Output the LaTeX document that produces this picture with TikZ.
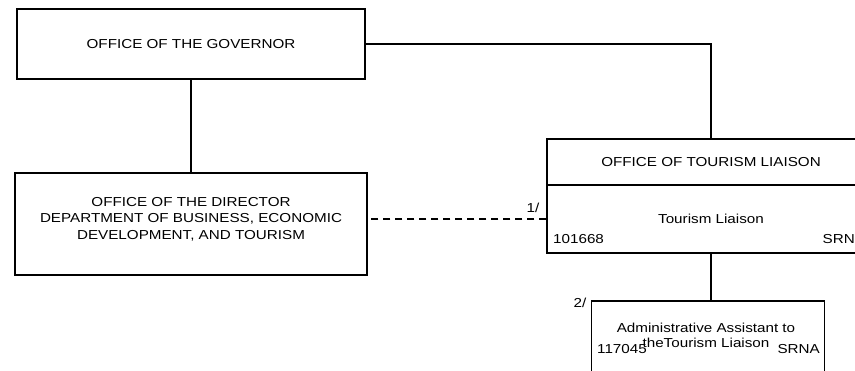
\documentclass[tikz,border=0pt]{standalone}
\usepackage{fontspec}
\setmainfont{Liberation Sans}[FakeStretch=1.17]
\usetikzlibrary{positioning}

\begin{document}
\begin{tikzpicture}[
      x=1pt, y=-1pt,
      every node/.style={font=\fontsize{13}{16.5}\selectfont},
      office/.style={draw, line width=1.5pt, inner sep=0pt},
      link/.style={line width=1.5pt},
      codelabel/.style={inner sep=0pt}
    ]
    \useasboundingbox (0,0) rectangle (855,370);
    \clip (0,0) rectangle (855,370);
    \node[office, minimum width=348pt, minimum height=70pt] (governor) at (191,44) {OFFICE OF THE GOVERNOR};
    \node[office, minimum width=352pt, minimum height=102pt] (director) at (191,224) {};
    \node[align=center] (directortext) at ([yshift=5pt]director.center) {OFFICE OF THE DIRECTOR\\DEPARTMENT OF BUSINESS, ECONOMIC\\DEVELOPMENT, AND TOURISM};
    \node[office, minimum width=328pt, minimum height=46pt] (tourtitle) at (711,162) {OFFICE OF TOURISM LIAISON};
    \node[office, minimum width=328pt, minimum height=68pt, below=-1.5pt of tourtitle] (liaison) {Tourism Liaison};
    \node[codelabel, anchor=base west] (liaisonpos) at (553,243) {101668};
    \node[codelabel, anchor=base east] (liaisonrank) at (855,243) {SRN};
    \node[office, minimum width=233pt, minimum height=89pt] (admin) at (708,345.5) {};
    \node[align=center, font=\fontsize{13}{15}\selectfont] (admintext) at (706,335) {Administrative Assistant to\\theTourism Liaison};
    \node[codelabel, anchor=base west] (adminpos) at (597,353) {117045};
    \node[codelabel, anchor=base east] (adminrank) at (820,353) {SRNA};
    \node[codelabel, anchor=base] (noteone) at (533,212) {1/};
    \node[codelabel, anchor=base] (notetwo) at (580,307) {2/};
    \draw[link] (governor.south) -- (director.north);
    \draw[link] (governor.east) -| (tourtitle.north);
    \draw[link, dash pattern=on 7pt off 5pt] (liaison.west) -- (liaison.west -| director.east);
    \draw[link] (liaison.south) -- (liaison.south |- admin.north);
  \end{tikzpicture}
\end{document}
